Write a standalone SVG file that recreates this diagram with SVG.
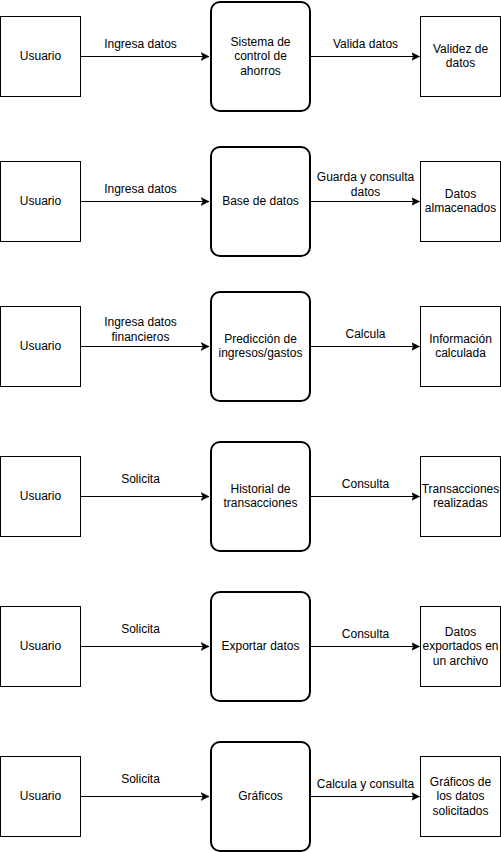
<svg xmlns="http://www.w3.org/2000/svg" width="501" height="852" viewBox="0 0 501 852">
<style>
.box{fill:#fff;stroke:#000;stroke-width:1}
.proc{fill:#fff;stroke:#000;stroke-width:2}
.edge{stroke:#000;stroke-width:1;fill:none}
text{font-family:"Liberation Sans",Arial,sans-serif;font-size:12px;fill:#000;text-anchor:middle}
.lbl{fill:#000;}
</style>
<defs>
<marker id="arr" markerUnits="userSpaceOnUse" markerWidth="10" markerHeight="10" refX="8" refY="4.5" orient="auto">
<path d="M0,0.5 L8,4.5 L0,8.5 L2,4.5 Z" fill="#000" stroke="#000" stroke-width="0.5"/>
</marker>
</defs>
<rect width="501" height="852" fill="#fff"/>
<g id="connectors">
<line class="edge" x1="80.5" y1="56.5" x2="209" y2="56.5" marker-end="url(#arr)"/>
<line class="edge" x1="311" y1="56.5" x2="419.5" y2="56.5" marker-end="url(#arr)"/>
<line class="edge" x1="80.5" y1="201.5" x2="209" y2="201.5" marker-end="url(#arr)"/>
<line class="edge" x1="311" y1="201.5" x2="419.5" y2="201.5" marker-end="url(#arr)"/>
<line class="edge" x1="80.5" y1="346.5" x2="209" y2="346.5" marker-end="url(#arr)"/>
<line class="edge" x1="311" y1="346.5" x2="419.5" y2="346.5" marker-end="url(#arr)"/>
<line class="edge" x1="80.5" y1="496.5" x2="209" y2="496.5" marker-end="url(#arr)"/>
<line class="edge" x1="311" y1="496.5" x2="419.5" y2="496.5" marker-end="url(#arr)"/>
<line class="edge" x1="80.5" y1="646.5" x2="209" y2="646.5" marker-end="url(#arr)"/>
<line class="edge" x1="311" y1="646.5" x2="419.5" y2="646.5" marker-end="url(#arr)"/>
<line class="edge" x1="80.5" y1="796.5" x2="209" y2="796.5" marker-end="url(#arr)"/>
<line class="edge" x1="311" y1="796.5" x2="419.5" y2="796.5" marker-end="url(#arr)"/>
<text x="140.5" y="48">Ingresa datos</text>
<text x="365.5" y="48">Valida datos</text>
<text x="140.5" y="193">Ingresa datos</text>
<text x="365.5" y="181">Guarda y consulta</text>
<text x="365.5" y="196">datos</text>
<text x="140.5" y="326">Ingresa datos</text>
<text x="140.5" y="341">financieros</text>
<text x="365.5" y="338">Calcula</text>
<text x="140.5" y="483">Solicita</text>
<text x="365.5" y="488">Consulta</text>
<text x="140.5" y="633">Solicita</text>
<text x="365.5" y="638">Consulta</text>
<text x="140.5" y="783">Solicita</text>
<text x="365.5" y="788">Calcula y consulta</text>
</g>
<g id="u1"><rect class="box" x="0.5" y="16.5" width="80" height="80"/><text x="40.5" y="60">Usuario</text></g>
<g id="p1"><rect class="proc" x="211" y="2" width="99" height="109" rx="9"/><text x="260.5" y="46">Sistema de</text><text x="260.5" y="60">control de</text><text x="260.5" y="75">ahorros</text></g>
<g id="r1"><rect class="box" x="420.5" y="16.5" width="80" height="80"/><text x="460.5" y="53">Validez de</text><text x="460.5" y="67">datos</text></g>

<g id="u2"><rect class="box" x="0.5" y="161.5" width="80" height="80"/><text x="40.5" y="205">Usuario</text></g>
<g id="p2"><rect class="proc" x="211" y="147" width="99" height="109" rx="9"/><text x="260.5" y="205">Base de datos</text></g>
<g id="r2"><rect class="box" x="420.5" y="161.5" width="80" height="80"/><text x="460.5" y="198">Datos</text><text x="460.5" y="212">almacenados</text></g>

<g id="u3"><rect class="box" x="0.5" y="306.5" width="80" height="80"/><text x="40.5" y="350">Usuario</text></g>
<g id="p3"><rect class="proc" x="211" y="292" width="99" height="109" rx="9"/><text x="260.5" y="343">Predicción de</text><text x="260.5" y="357">ingresos/gastos</text></g>
<g id="r3"><rect class="box" x="420.5" y="306.5" width="80" height="80"/><text x="460.5" y="343">Información</text><text x="460.5" y="357">calculada</text></g>

<g id="u4"><rect class="box" x="0.5" y="456.5" width="80" height="80"/><text x="40.5" y="500">Usuario</text></g>
<g id="p4"><rect class="proc" x="211" y="442" width="99" height="109" rx="9"/><text x="260.5" y="493">Historial de</text><text x="260.5" y="507">transacciones</text></g>
<g id="r4"><rect class="box" x="420.5" y="456.5" width="80" height="80"/><text x="460.5" y="493">Transacciones</text><text x="460.5" y="507">realizadas</text></g>

<g id="u5"><rect class="box" x="0.5" y="606.5" width="80" height="80"/><text x="40.5" y="650">Usuario</text></g>
<g id="p5"><rect class="proc" x="211" y="592" width="99" height="109" rx="9"/><text x="260.5" y="650">Exportar datos</text></g>
<g id="r5"><rect class="box" x="420.5" y="606.5" width="80" height="80"/><text x="460.5" y="636">Datos</text><text x="460.5" y="650">exportados en</text><text x="460.5" y="665">un archivo</text></g>

<g id="u6"><rect class="box" x="0.5" y="756.5" width="80" height="80"/><text x="40.5" y="800">Usuario</text></g>
<g id="p6"><rect class="proc" x="211" y="742" width="99" height="109" rx="9"/><text x="260.5" y="800">Gráficos</text></g>
<g id="r6"><rect class="box" x="420.5" y="756.5" width="80" height="80"/><text x="460.5" y="786">Gráficos de</text><text x="460.5" y="800">los datos</text><text x="460.5" y="815">solicitados</text></g>
</svg>
